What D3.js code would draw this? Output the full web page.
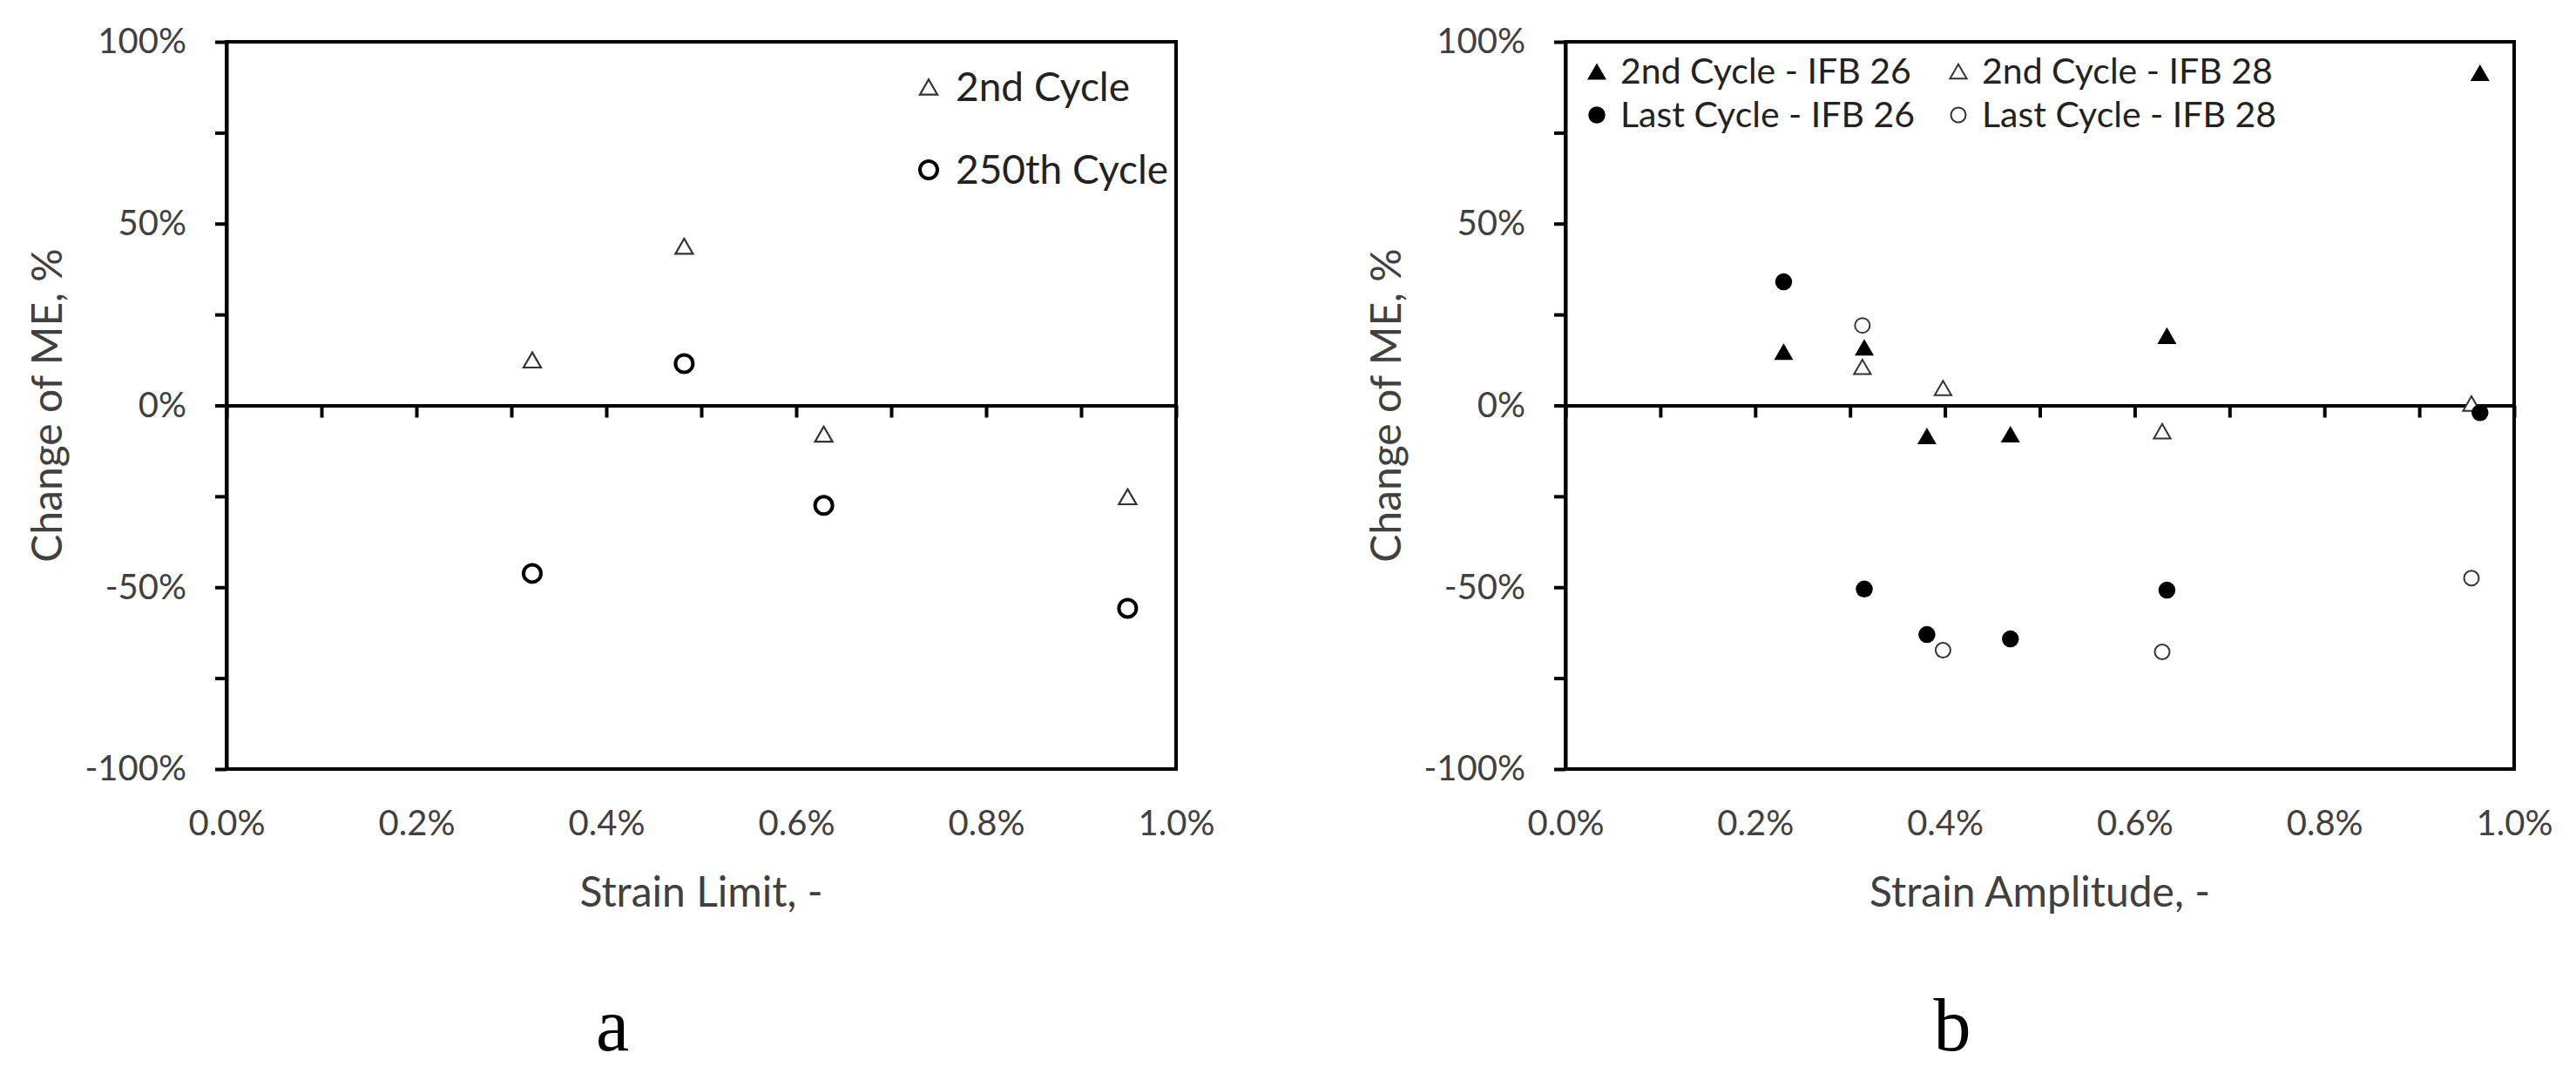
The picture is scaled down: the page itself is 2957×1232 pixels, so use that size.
<!DOCTYPE html>
<html>
<head>
<meta charset="utf-8">
<script src="https://cdn.jsdelivr.net/npm/d3@7"></script>
<style>
  html, body { margin: 0; padding: 0; background: #fff; }
  svg { display: block; }
</style>
</head>
<body>
<div id="chart"></div>
<script>
// panel a - strain limit (%), change of ME (%)
const strainLimit = [0.322, 0.482, 0.629, 0.949];
const cycle2nd = [12.5, 43.8, -7.9, -25.1];
const cycle250th = [-46.2, 11.5, -27.5, -55.8];

// panel b - strain amplitude (%), change of ME (%)
const amplitude26 = [0.230, 0.315, 0.381, 0.469, 0.634, 0.964];
const second26 = [14.8, 16.0, -8.4, -7.9, 19.2, 91.5];
const last26 = [34.0, -50.5, -63.0, -64.2, -50.8, -2.0];
const amplitude28 = [0.313, 0.398, 0.629, 0.955];
const second28 = [10.6, 4.8, -7.1, 0.5];
const last28 = [22.0, -67.3, -67.8, -47.5];

const yTicks = [-100, -75, -50, -25, 0, 25, 50, 75, 100];
const yLabels = [-100, -50, 0, 50, 100];
const xTicks = [0, 0.1, 0.2, 0.3, 0.4, 0.5, 0.6, 0.7, 0.8, 0.9, 1.0];
const xLabels = [0, 0.2, 0.4, 0.6, 0.8, 1.0];

const width = 2957;
const height = 1232;
const font = "Lato, 'Open Sans', sans-serif";
const textColor = "#404040";

const svg = d3.select("#chart")
  .append("svg")
  .attr("width", width)
  .attr("height", height)
  .attr("viewBox", [0, 0, width, height]);

const y = d3.scaleLinear()
  .domain([-100, 100])
  .range([883, 48]);

// marker styles
const markers = {
  openTri:   { type: d3.symbolTriangle, size: 175, fill: "#fff", stroke: "#333", sw: 2.2 },
  boldCirc:  { type: d3.symbolCircle, size: 314, fill: "#fff", stroke: "#000", sw: 4 },
  fillTri:   { type: d3.symbolTriangle, size: 210, fill: "#000", stroke: "none", sw: 0 },
  fillCirc:  { type: d3.symbolCircle, size: 299, fill: "#000", stroke: "none", sw: 0 },
  thinTri:   { type: d3.symbolTriangle, size: 160, fill: "#fff", stroke: "#333", sw: 2 },
  thinCirc:  { type: d3.symbolCircle, size: 227, fill: "#fff", stroke: "#333", sw: 2 }
};

// d3 triangles sit on their centroid; shift so the box is centred on the point
function shift(m) {
  if (m.type !== d3.symbolTriangle) return 0;
  const side = Math.sqrt(m.size * 4 / Math.sqrt(3));
  return side * Math.sqrt(3) / 12;
}

function symbol(sel, m) {
  sel.attr("d", d3.symbol().type(m.type).size(m.size))
    .attr("fill", m.fill)
    .attr("stroke", m.stroke)
    .attr("stroke-width", m.sw);
}

function panel(opts) {
  const x = d3.scaleLinear()
    .domain([0, 1])
    .range(opts.range);

  const g = svg.append("g");

  // plot frame
  g.append("rect")
    .attr("x", x(0))
    .attr("y", y(100))
    .attr("width", x(1) - x(0))
    .attr("height", y(-100) - y(100))
    .attr("fill", "none")
    .attr("stroke", "#000")
    .attr("stroke-width", 4);

  // y axis
  g.append("g")
    .attr("transform", `translate(${x(0)},0)`)
    .call(d3.axisLeft(y)
      .tickValues(yTicks)
      .tickSize(13)
      .tickSizeOuter(0)
      .tickPadding(33)
      .tickFormat(d => yLabels.includes(d) ? d + "%" : ""))
    .call(a => a.select(".domain").attr("stroke-width", 4))
    .call(a => a.selectAll(".tick line").attr("stroke-width", 4))
    .call(a => a.selectAll("text")
      .attr("font-family", font)
      .attr("font-size", 40)
      .attr("fill", textColor));

  // zero line with minor ticks
  g.append("g")
    .attr("transform", `translate(0,${y(0)})`)
    .call(d3.axisBottom(x)
      .tickValues(xTicks)
      .tickSize(14)
      .tickSizeOuter(0)
      .tickFormat(""))
    .call(a => a.select(".domain").attr("stroke-width", 4))
    .call(a => a.selectAll(".tick line").attr("stroke-width", 4));

  // x labels below plot
  g.append("g")
    .attr("transform", `translate(0,${y(-100)})`)
    .call(d3.axisBottom(x)
      .tickValues(xLabels)
      .tickSize(0)
      .tickPadding(48)
      .tickFormat(d => d.toFixed(1) + "%"))
    .call(a => a.select(".domain").remove())
    .call(a => a.selectAll("text")
      .attr("font-family", font)
      .attr("font-size", 40)
      .attr("fill", textColor));

  // axis titles
  g.append("text")
    .attr("transform", `translate(${x(0) - 189},${(y(100) + y(-100)) / 2}) rotate(-90)`)
    .attr("text-anchor", "middle")
    .attr("font-family", font)
    .attr("font-size", 48)
    .attr("fill", textColor)
    .text("Change of ME, %");

  g.append("text")
    .attr("x", (x(0) + x(1)) / 2)
    .attr("y", 1041)
    .attr("text-anchor", "middle")
    .attr("font-family", font)
    .attr("font-size", 48)
    .attr("fill", textColor)
    .text(opts.xTitle);

  g.append("text")
    .attr("x", opts.letterX)
    .attr("y", 1206)
    .attr("text-anchor", "middle")
    .attr("font-family", "'Liberation Serif', 'DejaVu Serif', serif")
    .attr("font-size", 86)
    .attr("fill", "#000")
    .text(opts.letter);

  // data series
  opts.series.forEach(s => {
    const dy = shift(s.marker);
    g.append("g")
      .selectAll("path")
      .data(s.xs.map((v, i) => [v, s.ys[i]]))
      .join("path")
        .attr("transform", d => `translate(${x(d[0])},${y(d[1]) + dy})`)
        .call(symbol, s.marker);
  });

  // legend
  const lg = g.append("g");
  opts.series.forEach(s => {
    lg.append("path")
      .attr("transform", `translate(${s.legend[0]},${s.legend[1] + shift(s.marker)})`)
      .call(symbol, s.marker);
    lg.append("text")
      .attr("x", s.legend[0] + opts.legendGap)
      .attr("y", s.legend[1])
      .attr("dy", "0.35em")
      .attr("font-family", font)
      .attr("font-size", opts.legendSize)
      .attr("fill", "#222")
      .text(s.name);
  });
}

panel({
  range: [260, 1350],
  xTitle: "Strain Limit, -",
  letter: "a",
  letterX: 703,
  legendGap: 31,
  legendSize: 46,
  series: [
    { name: "2nd Cycle", xs: strainLimit, ys: cycle2nd, marker: markers.openTri, legend: [1066, 100] },
    { name: "250th Cycle", xs: strainLimit, ys: cycle250th, marker: markers.boldCirc, legend: [1066, 195] }
  ]
});

panel({
  range: [1797, 2886],
  xTitle: "Strain Amplitude, -",
  letter: "b",
  letterX: 2241,
  legendGap: 27,
  legendSize: 41,
  series: [
    { name: "2nd Cycle - IFB 26", xs: amplitude26, ys: second26, marker: markers.fillTri, legend: [1833, 82] },
    { name: "2nd Cycle - IFB 28", xs: amplitude28, ys: second28, marker: markers.thinTri, legend: [2248, 82] },
    { name: "Last Cycle - IFB 26", xs: amplitude26, ys: last26, marker: markers.fillCirc, legend: [1833, 132] },
    { name: "Last Cycle - IFB 28", xs: amplitude28, ys: last28, marker: markers.thinCirc, legend: [2248, 132] }
  ]
});
</script>
</body>
</html>
